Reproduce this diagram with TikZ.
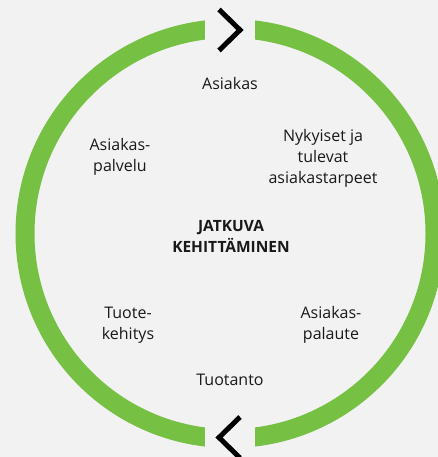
\documentclass[tikz,border=0pt]{standalone}
\usepackage{fontspec}
\setmainfont{Open Sans}
\definecolor{ringgreen}{RGB}{118,192,67}
\definecolor{bggray}{RGB}{242,242,242}
\begin{document}
\begin{tikzpicture}[x=1pt, y=-1pt, font=\fontsize{16}{21}\selectfont]
  \tikzset{phase/.style={align=center, text=black!90, inner sep=0pt},
           chevron/.style={line width=5pt, miter limit=10}}
  \fill[bggray] (0,0) rectangle (438,457);
  \useasboundingbox (0,0) rectangle (438,457);
  % the ring, with two gaps
  \draw[ringgreen, line width=19pt] (230,233.5) circle[radius=205pt];
  \fill[bggray] (205,0) rectangle (255,60);
  \fill[bggray] (205,400) rectangle (255,457);
  \draw[chevron] (219,9.5) -- (240,30) -- (219,50.5);
  \draw[chevron] (240,417) -- (219,437.5) -- (240,458);
  % texts
  \node[phase] (asiakas) at (230,84) {Asiakas};
  \node[phase] (tarpeet) at (323,158) {Nykyiset ja\\tulevat\\asiakastarpeet};
  \node[phase] (palvelu) at (120,157) {Asiakas-\\palvelu};
  \node[phase, font=\fontsize{15.5}{21}\selectfont\bfseries] (kehitys) at (231,236) {JATKUVA\\KEHITTÄMINEN};
  \node[phase] (tuote) at (128,325) {Tuote-\\kehitys};
  \node[phase] (palaute) at (331,325) {Asiakas-\\palaute};
  \node[phase] (tuotanto) at (230,380) {Tuotanto};
\end{tikzpicture}
\end{document}
